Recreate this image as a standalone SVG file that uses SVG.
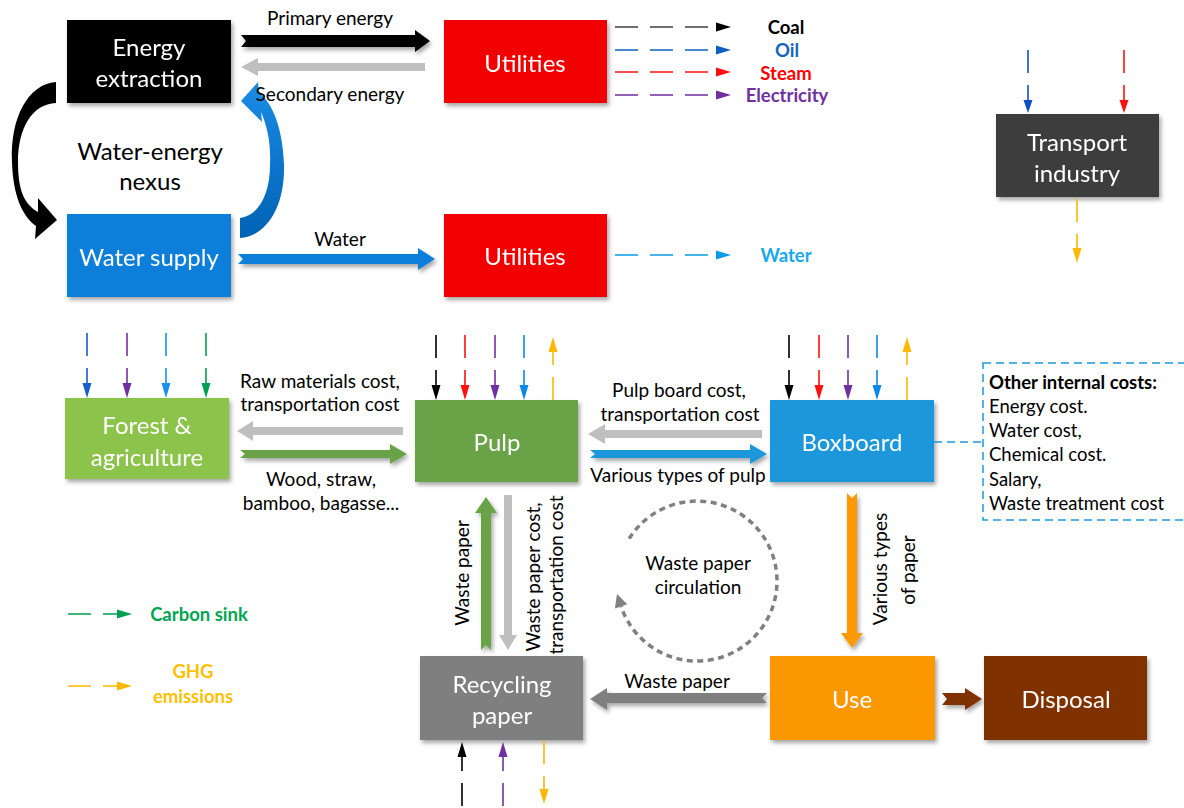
<svg xmlns="http://www.w3.org/2000/svg" width="1184" height="808" viewBox="0 0 1184 808">
<defs>
<filter id="sh" x="-10%" y="-10%" width="130%" height="140%"><feDropShadow dx="2" dy="3" stdDeviation="2" flood-color="#000" flood-opacity="0.35"/></filter>
<linearGradient id="bluecurve" x1="0" y1="0" x2="0" y2="1"><stop offset="0" stop-color="#1a8ce6"/><stop offset="1" stop-color="#0062b4"/></linearGradient>
</defs>
<style>
text{font-family:Lato,"Open Sans","Liberation Sans",sans-serif}
.bx{font-size:24px;fill:#fff;text-anchor:middle;dominant-baseline:central}
.lb{font-size:19px;fill:#000;text-anchor:middle;dominant-baseline:central}
.lg{font-size:18.5px;font-weight:bold;text-anchor:middle;dominant-baseline:central}
.oc{font-size:18.5px;fill:#000;dominant-baseline:central}
.d{fill:none;stroke-width:1.6;stroke-dasharray:23 12}
</style>

<g id="energy-extraction" filter="url(#sh)"><rect x="67" y="20" width="164" height="83" fill="#000"/><text class="bx" x="149" y="46">Energy</text><text class="bx" x="149" y="77">extraction</text></g>
<g id="utilities-energy" filter="url(#sh)"><rect x="444" y="20" width="163" height="83" fill="#f00000"/><text class="bx" x="525" y="62">Utilities</text></g>
<g id="water-supply" filter="url(#sh)"><rect x="67" y="214" width="164" height="83" fill="#0c7fdb"/><text class="bx" x="149" y="256">Water supply</text></g>
<g id="utilities-water" filter="url(#sh)"><rect x="444" y="214" width="163" height="83" fill="#f00000"/><text class="bx" x="525" y="255">Utilities</text></g>
<g id="transport-industry" filter="url(#sh)"><rect x="996" y="114" width="163" height="83" fill="#3c3c3c"/><text class="bx" x="1077" y="141">Transport</text><text class="bx" x="1077" y="172">industry</text></g>
<g id="forest-agriculture" filter="url(#sh)"><rect x="65" y="398" width="164" height="81" fill="#8bc34b"/><text class="bx" x="147" y="424">Forest &amp;</text><text class="bx" x="147" y="456">agriculture</text></g>
<g id="pulp" filter="url(#sh)"><rect x="415" y="400" width="163" height="82" fill="#6ba246"/><text class="bx" x="497" y="441">Pulp</text></g>
<g id="boxboard" filter="url(#sh)"><rect x="770" y="400" width="164" height="82" fill="#1b97dc"/><text class="bx" x="852" y="441">Boxboard</text></g>
<g id="recycling-paper" filter="url(#sh)"><rect x="420" y="656" width="163" height="84" fill="#7f7f7f"/><text class="bx" x="502" y="683">Recycling</text><text class="bx" x="502" y="714">paper</text></g>
<g id="use" filter="url(#sh)"><rect x="770" y="656" width="165" height="84" fill="#fb9700"/><text class="bx" x="852" y="698">Use</text></g>
<g id="disposal" filter="url(#sh)"><rect x="984" y="656" width="163" height="84" fill="#7f3300"/><text class="bx" x="1066" y="698">Disposal</text></g>
<g id="other-internal-costs">
<rect x="983" y="363" width="210" height="157" fill="none" stroke="#1a9ae0" stroke-width="1.5" stroke-dasharray="8 5"/>
<text class="oc" x="989" y="382" font-weight="bold">Other internal costs:</text>
<text class="oc" x="989" y="406">Energy cost.</text>
<text class="oc" x="989" y="430">Water cost,</text>
<text class="oc" x="989" y="454">Chemical cost.</text>
<text class="oc" x="989" y="479">Salary,</text>
<text class="oc" x="989" y="503">Waste treatment cost</text>
</g>

<g id="connectors">
<path d="M56,82 C28,84 10,118 12,162 C13,195 22,216 36,226 L35,239 L57,220 L38,198 L38,212 C24,204 18,190 18,162 C18,128 32,104 56,103 Z" fill="#000"/>
<path d="M240,238 C268,236 285,205 284,165 C283,128 272,102 259,93 L258,82 L241,101 L262,122 L261,112 C267,126 271,142 270,165 C270,195 258,216 240,218 Z" fill="url(#bluecurve)"/>
<polygon points="241,35 415,35 415,30 430,41 415,52 415,47 241,47 246,41" fill="#000" filter="url(#sh)"/>
<polygon points="425,63 258,63 258,58 241,67 258,76 258,71 425,71" fill="#bfbfbf"/>
<polygon points="238,254 418,254 418,248 435,259 418,270 418,264 238,264 243,259" fill="#0c7fdb" filter="url(#sh)"/>
<polygon points="403,427 253,427 253,421 237,431 253,441 253,435 403,435" fill="#bfbfbf"/>
<polygon points="240,450 390,450 390,444 407,454 390,464 390,458 240,458 245,454" fill="#6ba246" filter="url(#sh)"/>
<polygon points="762,430 605,430 605,424 588,434 605,444 605,438 762,438" fill="#bfbfbf"/>
<polygon points="590,450 750,450 750,444 767,454 750,464 750,458 590,458 595,454" fill="#1b97dc" filter="url(#sh)"/>
<polygon points="481,650 481,513 475,513 486,497 497,513 491,513 491,650 486,645" fill="#6ba246" filter="url(#sh)"/>
<polygon points="504,495 512,495 512,635 517,635 508,650 499,635 504,635" fill="#bfbfbf"/>
<polygon points="847,493 852,498 857,493 857,633 863,633 852,648 841,633 847,633" fill="#ff9900" filter="url(#sh)"/>
<polygon points="767,693 762,698 767,703 607,703 607,710 590,699 607,688 607,693" fill="#7f7f7f" filter="url(#sh)"/>
<polygon points="942,693 965,693 965,688 982,699 965,710 965,705 942,705 947,699" fill="#7f3300" filter="url(#sh)"/>
<line x1="934" y1="442" x2="983" y2="442" stroke="#1a9ae0" stroke-width="1.5" stroke-dasharray="8 5"/>
<path d="M629.2,538.6 A80,80 0 1 1 621.1,606.4" fill="none" stroke="#808080" stroke-width="3.5" stroke-dasharray="6 4.5"/>
<polygon points="617,594 627.3,604.3 614.9,608.5" fill="#808080"/>

<line class="d" x1="615" y1="27" x2="716" y2="27" stroke="#404040"/><polygon points="716,22.5 731,27 716,31.5" fill="#000"/>
<line class="d" x1="615" y1="50" x2="716" y2="50" stroke="#1060c0"/><polygon points="716,45.5 731,50 716,54.5" fill="#1060c0"/>
<line class="d" x1="615" y1="72" x2="716" y2="72" stroke="#ff1010"/><polygon points="716,67.5 731,72 716,76.5" fill="#ff1010"/>
<line class="d" x1="615" y1="95" x2="716" y2="95" stroke="#7030a0"/><polygon points="716,90.5 731,95 716,99.5" fill="#7030a0"/>
<line class="d" x1="615" y1="255" x2="716" y2="255" stroke="#0a9be8"/><polygon points="716,250.5 731,255 716,259.5" fill="#0a9be8"/>

<line class="d" x1="1028" y1="50" x2="1028" y2="100" stroke="#1050c0"/><polygon points="1023.5,100 1032.5,100 1028,113" fill="#1050c0"/>
<line class="d" x1="1124" y1="50" x2="1124" y2="100" stroke="#ff1010"/><polygon points="1119.5,100 1128.5,100 1124,113" fill="#ff1010"/>
<line class="d" x1="1077" y1="199" x2="1077" y2="248" stroke="#ffb800"/><polygon points="1072.5,248 1081.5,248 1077,263" fill="#ffb800"/>

<line class="d" x1="87" y1="333" x2="87" y2="384" stroke="#1a5cc8"/><polygon points="82.5,383 91.5,383 87,398" fill="#1a5cc8"/>
<line class="d" x1="127" y1="333" x2="127" y2="384" stroke="#7030a0"/><polygon points="122.5,383 131.5,383 127,398" fill="#7030a0"/>
<line class="d" x1="166" y1="333" x2="166" y2="384" stroke="#1a90ee"/><polygon points="161.5,383 170.5,383 166,398" fill="#1a90ee"/>
<line class="d" x1="206" y1="333" x2="206" y2="384" stroke="#00a050"/><polygon points="201.5,383 210.5,383 206,398" fill="#00a050"/>

<line class="d" x1="436" y1="335" x2="436" y2="386" stroke="#000"/><polygon points="431.5,385 440.5,385 436,400" fill="#000"/>
<line class="d" x1="465" y1="335" x2="465" y2="386" stroke="#ff1010"/><polygon points="460.5,385 469.5,385 465,400" fill="#ff1010"/>
<line class="d" x1="495" y1="335" x2="495" y2="386" stroke="#7030a0"/><polygon points="490.5,385 499.5,385 495,400" fill="#7030a0"/>
<line class="d" x1="524" y1="335" x2="524" y2="386" stroke="#0a8ae8"/><polygon points="519.5,385 528.5,385 524,400" fill="#0a8ae8"/>
<line class="d" x1="553" y1="400" x2="553" y2="352" stroke="#ffb800"/><polygon points="548.5,352 557.5,352 553,337" fill="#ffb800"/>

<line class="d" x1="789" y1="335" x2="789" y2="386" stroke="#000"/><polygon points="784.5,385 793.5,385 789,400" fill="#000"/>
<line class="d" x1="819" y1="335" x2="819" y2="386" stroke="#ff1010"/><polygon points="814.5,385 823.5,385 819,400" fill="#ff1010"/>
<line class="d" x1="848" y1="335" x2="848" y2="386" stroke="#7030a0"/><polygon points="843.5,385 852.5,385 848,400" fill="#7030a0"/>
<line class="d" x1="877" y1="335" x2="877" y2="386" stroke="#0a8ae8"/><polygon points="872.5,385 881.5,385 877,400" fill="#0a8ae8"/>
<line class="d" x1="907" y1="400" x2="907" y2="352" stroke="#ffb800"/><polygon points="902.5,352 911.5,352 907,337" fill="#ffb800"/>

<line class="d" x1="462" y1="806" x2="462" y2="757" stroke="#000"/><polygon points="457.5,757 466.5,757 462,742" fill="#000"/>
<line class="d" x1="503" y1="806" x2="503" y2="757" stroke="#7030a0"/><polygon points="498.5,757 507.5,757 503,742" fill="#7030a0"/>
<line class="d" x1="544" y1="741" x2="544" y2="790" stroke="#ffb800"/><polygon points="539.5,789 548.5,789 544,804" fill="#ffb800"/>

<line class="d" x1="68" y1="614" x2="118" y2="614" stroke="#00a050"/><polygon points="117,609.5 132,614 117,618.5" fill="#00a050"/>
<line class="d" x1="68" y1="686" x2="118" y2="686" stroke="#ffb800"/><polygon points="117,681.5 132,686 117,690.5" fill="#ffb800"/>
</g>

<g id="labels">
<text class="bx" x="150" y="150" style="fill:#000">Water-energy</text>
<text class="bx" x="150" y="180" style="fill:#000">nexus</text>
<text class="lb" x="330" y="17">Primary energy</text>
<text class="lb" x="330" y="93">Secondary energy</text>
<text class="lb" x="340" y="238">Water</text>
<text class="lb" x="320" y="380">Raw materials cost,</text>
<text class="lb" x="320" y="403">transportation cost</text>
<text class="lb" x="321" y="478">Wood, straw,</text>
<text class="lb" x="321" y="502">bamboo, bagasse...</text>
<text class="lb" x="679" y="389">Pulp board cost,</text>
<text class="lb" x="680" y="413">transportation cost</text>
<text class="lb" x="678" y="474">Various types of pulp</text>
<text class="lb" x="677" y="680">Waste paper</text>
<text class="lb" x="698" y="562">Waste paper</text>
<text class="lb" x="698" y="586">circulation</text>
<text class="lb" transform="rotate(-90 461 573)" x="461" y="573">Waste paper</text>
<text class="lb" transform="rotate(-90 532 577)" x="532" y="577">Waste paper cost,</text>
<text class="lb" transform="rotate(-90 555 575)" x="555" y="575">transportation cost</text>
<text class="lb" transform="rotate(-90 879 569)" x="879" y="569">Various types</text>
<text class="lb" transform="rotate(-90 907 570)" x="907" y="570">of paper</text>
<text class="lg" x="786" y="27" fill="#000">Coal</text>
<text class="lg" x="787" y="50" fill="#1565c0">Oil</text>
<text class="lg" x="786" y="73" fill="#ff0000">Steam</text>
<text class="lg" x="787" y="95" fill="#7030a0">Electricity</text>
<text class="lg" x="786" y="255" fill="#1aa8ef">Water</text>
<text class="lg" x="199" y="614" fill="#00a651">Carbon sink</text>
<text class="lg" x="193" y="671" fill="#ffc000">GHG</text>
<text class="lg" x="193" y="696" fill="#ffc000">emissions</text>
</g>
</svg>
